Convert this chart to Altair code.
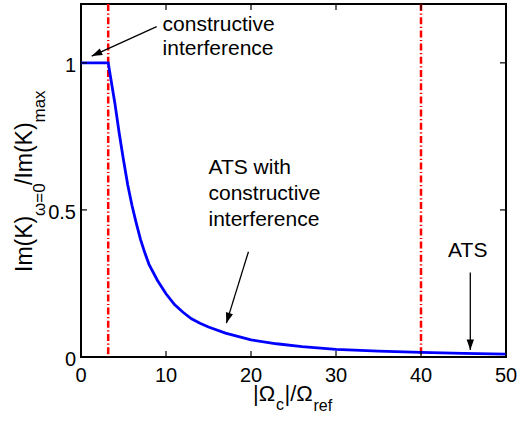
import math
import altair as alt
import pandas as pd

# ---- data ----
x_vals = [0, 3.2, 3.6, 4.0, 4.5, 5.0, 5.5, 6.0, 6.5, 7.0, 7.5, 8.0, 9.0, 10, 11, 12, 13,
          14, 15, 17, 20, 23, 26, 30, 35, 40, 45, 50]
y_vals = [1.0, 1.0, 0.93, 0.86, 0.76, 0.67, 0.585, 0.515, 0.455, 0.40, 0.355, 0.315, 0.26,
          0.215, 0.178, 0.152, 0.13, 0.115, 0.102, 0.081, 0.058, 0.045, 0.035, 0.026,
          0.020, 0.016, 0.012, 0.010]
marker_x = [3.2, 40]
x_ticks = [0, 10, 20, 30, 40, 50]
x_tick_labels = ["0", "10", "20", "30", "40", "50"]
y_ticks = [0, 0.5, 1]
y_tick_labels = ["0", "0.5", "1"]

ann_text = ["constructive", "interference", "ATS with", "constructive", "interference"]
ann_x = [9.6, 9.6, 15.0, 15.0, 15.0]
ann_y = [1.108, 1.027, 0.622, 0.534, 0.445]
ats_text = ["ATS"]
ats_x = [45.5]
ats_y = [0.341]

arrow_x0 = [8.9, 19.7, 45.8]
arrow_y0 = [1.123, 0.358, 0.287]
arrow_x1 = [1.26, 17.1, 45.8]
arrow_y1 = [1.023, 0.115, 0.024]

# ---- layout ----
W, H = 425, 353
XMAX, YMAX = 50, 1.2
FONT = "Liberation Sans"

xs = alt.Scale(domain=[0, XMAX], nice=False, zero=False)
ys = alt.Scale(domain=[0, YMAX], nice=False, zero=False)

df = pd.DataFrame({"x": x_vals, "y": y_vals})

curve = alt.Chart(df).mark_line(color="#0000ff", strokeWidth=2.8).encode(
    x=alt.X("x:Q", scale=xs, axis=None),
    y=alt.Y("y:Q", scale=ys, axis=None),
)

markers = alt.Chart(pd.DataFrame({"m": marker_x})).mark_rule(
    color="#ff0000", strokeWidth=2.5, strokeDash=[7, 2.5, 1.2, 2.5]
).encode(x=alt.X("m:Q", scale=xs, axis=None))

tdfx = pd.DataFrame({"t": x_ticks, "lab": x_tick_labels})
tdfy = pd.DataFrame({"t": y_ticks, "lab": y_tick_labels})
tick_b = alt.Chart(tdfx).mark_rule(color="black", strokeWidth=1.2).encode(
    x=alt.X("t:Q", scale=xs, axis=None), y=alt.value(H), y2=alt.value(H - 6))
tick_t = alt.Chart(tdfx).mark_rule(color="black", strokeWidth=1.2).encode(
    x=alt.X("t:Q", scale=xs, axis=None), y=alt.value(0), y2=alt.value(6))
tick_l = alt.Chart(tdfy).mark_rule(color="black", strokeWidth=1.2).encode(
    y=alt.Y("t:Q", scale=ys, axis=None), x=alt.value(0), x2=alt.value(6))
tick_r = alt.Chart(tdfy).mark_rule(color="black", strokeWidth=1.2).encode(
    y=alt.Y("t:Q", scale=ys, axis=None), x=alt.value(W), x2=alt.value(W - 6))

xlab = alt.Chart(tdfx).mark_text(
    align="center", baseline="alphabetic", font=FONT, fontSize=20, color="black"
).encode(x=alt.X("t:Q", scale=xs, axis=None), y=alt.value(H + 25), text="lab:N")
ylab = alt.Chart(tdfy).mark_text(
    align="right", baseline="middle", font=FONT, fontSize=20, color="black", dy=3
).encode(y=alt.Y("t:Q", scale=ys, axis=None), x=alt.value(-5), text="lab:N")

ann = alt.Chart(pd.DataFrame({"t": ann_text, "x": ann_x, "y": ann_y})).mark_text(
    align="left", baseline="alphabetic", font=FONT, fontSize=21, color="black"
).encode(x=alt.X("x:Q", scale=xs, axis=None), y=alt.Y("y:Q", scale=ys, axis=None), text="t:N")
ats = alt.Chart(pd.DataFrame({"t": ats_text, "x": ats_x, "y": ats_y})).mark_text(
    align="center", baseline="alphabetic", font=FONT, fontSize=21, color="black"
).encode(x=alt.X("x:Q", scale=xs, axis=None), y=alt.Y("y:Q", scale=ys, axis=None), text="t:N")

# arrows
sx, sy = W / XMAX, H / YMAX
angles = []
for a, b, c, d in zip(arrow_x0, arrow_y0, arrow_x1, arrow_y1):
    dx = (c - a) * sx
    dy = -(d - b) * sy
    angles.append(math.degrees(math.atan2(dx, -dy)) % 360)
adf = pd.DataFrame({"x0": arrow_x0, "y0": arrow_y0, "x1": arrow_x1, "y1": arrow_y1, "ang": angles})
arrow_lines = alt.Chart(adf).mark_rule(color="black", strokeWidth=1.3).encode(
    x=alt.X("x0:Q", scale=xs, axis=None), y=alt.Y("y0:Q", scale=ys, axis=None),
    x2="x1:Q", y2="y1:Q")
arrow_heads = alt.Chart(adf).mark_point(
    shape="M0,0L-0.7,2L0.7,2Z", filled=True, color="black", opacity=1, size=110
).encode(x=alt.X("x1:Q", scale=xs, axis=None), y=alt.Y("y1:Q", scale=ys, axis=None),
         angle=alt.Angle("ang:Q", scale=None))


def piece(text, x, y, size, angle=0):
    return alt.Chart(pd.DataFrame({"t": [text]})).mark_text(
        align="left", baseline="alphabetic", font=FONT, fontSize=size, color="black", angle=angle
    ).encode(text="t:N", x=alt.value(x), y=alt.value(y))


# x title: |Ω_c|/Ω_ref
xt = [piece("|Ω", 172, 397, 22), piece("c", 195, 406, 16),
      piece("|/Ω", 203.5, 397, 22), piece("ref", 232.5, 407, 16)]
# y title: Im(K)_{ω=0}/Im(K)_{max}
yt = [piece("Im(K)", -49, 268, 23, 270), piece("ω=0", -36, 212, 17, 270),
      piece("/Im(K)", -49, 181, 23, 270), piece("max", -36, 118.5, 17, 270)]

chart = alt.layer(
    markers, curve, tick_b, tick_t, tick_l, tick_r, xlab, ylab, ann, ats,
    arrow_lines, arrow_heads, *xt, *yt
).properties(
    width=W, height=H,
    autosize=alt.AutoSizeParams(type="none"),
    padding={"left": 81, "top": 4, "right": 12, "bottom": 64},
    background="white",
).configure_view(stroke="black", strokeWidth=2)

chart.save("out.html", embed_options={"renderer": "svg", "actions": False})
